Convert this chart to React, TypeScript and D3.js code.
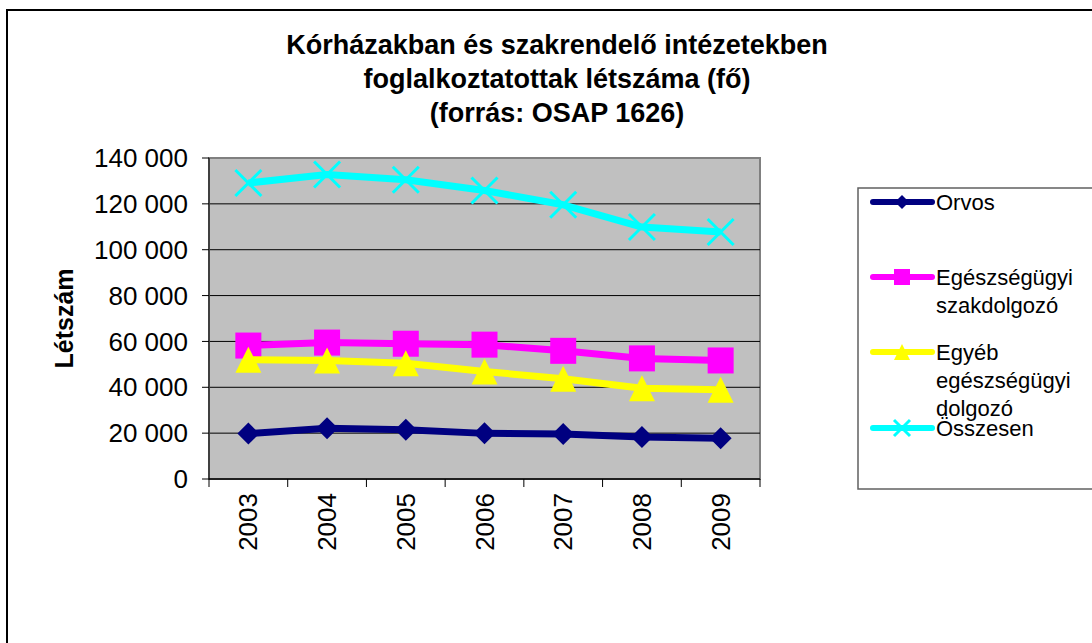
import React from "react";
import * as d3 from "d3";

const years = ["2003", "2004", "2005", "2006", "2007", "2008", "2009"];
const orvos = [19800, 22100, 21500, 19900, 19600, 18300, 17800];
const szakdolgozo = [58200, 59500, 59000, 58600, 55900, 52600, 51700];
const egyeb = [52000, 51700, 50500, 46900, 43700, 39600, 38900];
const osszesen = [129100, 132800, 130500, 125800, 119600, 109900, 107700];
const yTicks = [0, 20000, 40000, 60000, 80000, 100000, 120000, 140000];

const titleLines = [
  "Kórházakban és szakrendelő intézetekben",
  "foglalkoztatottak létszáma (fő)",
  "(forrás: OSAP 1626)",
];

const series = [
  { name: ["Orvos"], values: orvos, color: "#000080", marker: "diamond" },
  { name: ["Egészségügyi", "szakdolgozó"], values: szakdolgozo, color: "#FF00FF", marker: "square" },
  { name: ["Egyéb", "egészségügyi", "dolgozó"], values: egyeb, color: "#FFFF00", marker: "triangle" },
  { name: ["Összesen"], values: osszesen, color: "#00FFFF", marker: "x" },
];

const font = "'Liberation Sans', Arial, sans-serif";
const fmt = (v: number) => d3.format(",")(v).replace(/,/g, " ");

// marker drawn around (0,0), s = half size
const Marker = ({ type, s, color }: { type: string; s: number; color: string }) => {
  if (type === "diamond")
    return <path d={`M0,${-s}L${s},0L0,${s}L${-s},0Z`} fill={color} />;
  if (type === "square")
    return <rect x={-s} y={-s} width={2 * s} height={2 * s} fill={color} />;
  if (type === "triangle")
    return <path d={`M0,${-s}L${s},${s}L${-s},${s}Z`} fill={color} />;
  return (
    <path d={`M${-s},${-s}L${s},${s}M${-s},${s}L${s},${-s}`} stroke={color} strokeWidth={3} fill="none" />
  );
};

const App = () => {
  const W = 1092, H = 643;
  const left = 209, right = 760, top = 158, bottom = 479;

  const x = d3.scaleBand().domain(years).range([left, right]);
  const cx = (yr: string) => (x(yr) as number) + x.bandwidth() / 2;
  const y = d3.scaleLinear().domain([0, 140000]).range([bottom, top]);

  const line = d3
    .line<number>()
    .x((_, i) => cx(years[i]))
    .y((d) => y(d));

  const legendY = [202, 277, 352, 428];

  return (
    <svg width={W} height={H} style={{ position: "absolute", left: 0, top: 0, background: "#fff" }} fontFamily={font}>
      {/* outer frame */}
      <rect x={7} y={10} width={W + 20} height={H + 20} fill="none" stroke="#000" strokeWidth={2} />

      {/* title */}
      {titleLines.map((t, i) => (
        <text key={i} x={557} y={54 + i * 34} textAnchor="middle" fontSize={27} fontWeight="bold">
          {t}
        </text>
      ))}

      {/* plot area */}
      <rect x={left} y={top} width={right - left} height={bottom - top} fill="#C0C0C0" stroke="#808080" strokeWidth={2} />
      {yTicks.slice(1, -1).map((t) => (
        <line key={t} x1={left} x2={right} y1={y(t)} y2={y(t)} stroke="#000" strokeWidth={1} />
      ))}
      {/* y axis */}
      <line x1={left} x2={left} y1={top} y2={bottom} stroke="#404040" strokeWidth={2} />
      {yTicks.map((t) => (
        <g key={t}>
          <line x1={left - 7} x2={left} y1={y(t)} y2={y(t)} stroke="#000" />
          <text x={188} y={y(t)} dy="0.35em" textAnchor="end" fontSize={26}>
            {fmt(t)}
          </text>
        </g>
      ))}
      <text transform={`translate(73,${(top + bottom) / 2}) rotate(-90)`} textAnchor="middle" fontSize={25} fontWeight="bold">
        Létszám
      </text>

      {/* x axis */}
      <line x1={left} x2={right} y1={bottom} y2={bottom} stroke="#000" strokeWidth={1.5} />
      {[...years.map((yr) => x(yr) as number), right].map((v, i) => (
        <line key={i} x1={v} x2={v} y1={bottom} y2={bottom + 8} stroke="#000" />
      ))}
      {years.map((yr) => (
        <text key={yr} transform={`translate(${cx(yr)},493) rotate(-90)`} textAnchor="end" dy="0.35em" fontSize={26}>
          {yr}
        </text>
      ))}

      {/* series */}
      {series.map((s) => (
        <g key={s.marker}>
          <path d={line(s.values) as string} fill="none" stroke={s.color} strokeWidth={7} strokeLinejoin="round" />
          {s.values.map((v, i) => (
            <g key={i} transform={`translate(${cx(years[i])},${y(v)})`}>
              <Marker type={s.marker} s={s.marker === "diamond" ? 11 : 13} color={s.color} />
            </g>
          ))}
        </g>
      ))}

      {/* legend */}
      <rect x={858} y={188} width={260} height={301} fill="#fff" stroke="#606060" strokeWidth={1.5} />
      {series.map((s, i) => (
        <g key={s.marker}>
          <line x1={873} x2={932} y1={legendY[i]} y2={legendY[i]} stroke={s.color} strokeWidth={6} strokeLinecap="round" />
          <g transform={`translate(902,${legendY[i]})`}>
            <Marker type={s.marker} s={s.marker === "diamond" ? 7 : 8} color={s.color} />
          </g>
          {s.name.map((n, j) => (
            <text key={j} x={936} y={legendY[i] + j * 28} dy="0.35em" fontSize={22}>
              {n}
            </text>
          ))}
        </g>
      ))}
    </svg>
  );
};

export default App;
